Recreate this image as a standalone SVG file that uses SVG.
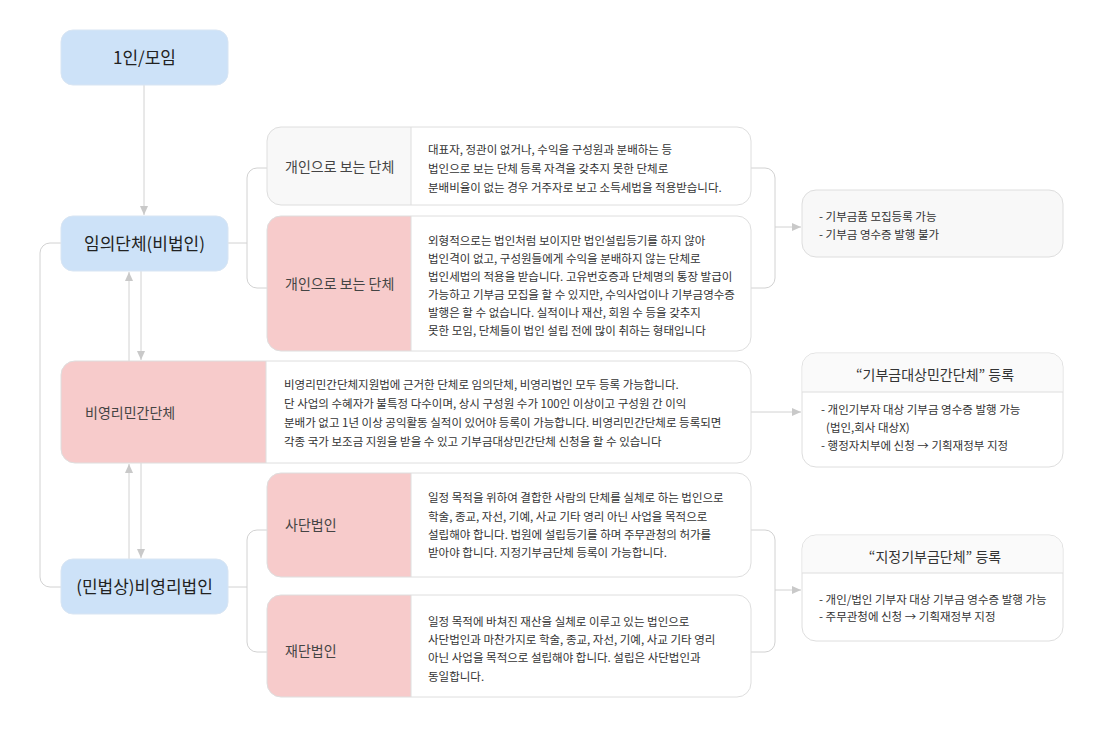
<svg xmlns="http://www.w3.org/2000/svg" width="1100" height="744" viewBox="0 0 1100 744">
<style>
text { font-family: "Noto Sans CJK KR", "Noto Sans", sans-serif; }
.bg { fill: #ffffff; }
.blue { fill: #cde2f8; stroke: #d8e5f3; stroke-width: 1; }
.lbl { font-size: 17px; fill: #222; text-anchor: middle; }
.outer { fill: none; stroke: #dedede; stroke-width: 1; }
.white { fill: #ffffff; }
.grey { fill: #f8f8f8; }
.pink { fill: #f7cbcb; }
.sep { stroke: #dedede; stroke-width: 1; }
.sub { font-size: 14px; fill: #444; }
.body { font-size: 11.5px; fill: #333; }
.rbox { fill: #ffffff; stroke: #dedede; stroke-width: 1; }
.rhead { fill: #fafafa; }
.htxt { font-size: 14px; fill: #333; text-anchor: middle; }
.conn { fill: none; stroke: #d2d2d2; stroke-width: 1; }
</style>
<defs>
<marker id="arr" markerUnits="userSpaceOnUse" markerWidth="10" markerHeight="8" refX="9" refY="4" orient="auto">
<path d="M0,0 L9,4 L0,8 Z" fill="#c9c9c9"/>
</marker>
</defs>
<rect class="bg" x="0" y="0" width="1100" height="744"/>

<g id="connectors">
<path class="conn" d="M144,85 V215" marker-end="url(#arr)"/>
<path class="conn" d="M228,243 H247"/>
<path class="conn" d="M267,168 H257 A10,10 0 0 0 247,178 V278 A10,10 0 0 0 257,288 H267"/>
<path class="conn" d="M751,168 H765 A10,10 0 0 1 775,178 V278 A10,10 0 0 1 765,288 H751"/>
<path class="conn" d="M775,227 H801" marker-end="url(#arr)"/>
<path class="conn" d="M751,412 H801" marker-end="url(#arr)"/>
<path class="conn" d="M751,530 H765 A10,10 0 0 1 775,540 V642 A10,10 0 0 1 765,652 H751"/>
<path class="conn" d="M775,590 H801" marker-end="url(#arr)"/>
<path class="conn" d="M228,587 H247"/>
<path class="conn" d="M267,530 H257 A10,10 0 0 0 247,540 V642 A10,10 0 0 0 257,652 H267"/>
<path class="conn" d="M61,243 H50 A10,10 0 0 0 40,253 V577 A10,10 0 0 0 50,587 H61"/>
<path class="conn" d="M129,361 V272" marker-end="url(#arr)"/>
<path class="conn" d="M141,271 V360" marker-end="url(#arr)"/>
<path class="conn" d="M129,559 V464" marker-end="url(#arr)"/>
<path class="conn" d="M141,463 V558" marker-end="url(#arr)"/>
</g>

<g id="node-1in">
<rect class="blue" x="61" y="30" width="167" height="55" rx="12"/>
<text class="lbl" x="144.5" y="64">1인/모임</text>
</g>

<g id="node-imui">
<rect class="blue" x="61" y="216" width="167" height="55" rx="12"/>
<text class="lbl" x="144.5" y="250">임의단체(비법인)</text>
</g>

<g id="node-minbeop">
<rect class="blue" x="61" y="559" width="167" height="55" rx="12"/>
<text class="lbl" x="144.5" y="593">(민법상)비영리법인</text>
</g>

<g id="node-gaein1">
<rect class="white" x="267" y="127" width="484" height="78" rx="14"/>
<path class="grey" d="M411,127 H281 A14,14 0 0 0 267,141 V191 A14,14 0 0 0 281,205 H411 Z"/>
<line class="sep" x1="411" y1="127" x2="411" y2="205"/>
<rect class="outer" x="267" y="127" width="484" height="78" rx="14"/>
<text class="sub" x="285" y="172">개인으로 보는 단체</text>
<text class="body" x="428" y="154">대표자, 정관이 없거나, 수익을 구성원과 분배하는 등</text>
<text class="body" x="428" y="173">법인으로 보는 단체 등록 자격을 갖추지 못한 단체로</text>
<text class="body" x="428" y="192">분배비율이 없는 경우 거주자로 보고 소득세법을 적용받습니다.</text>
</g>

<g id="node-gaein2">
<rect class="white" x="267" y="216" width="484" height="135" rx="14"/>
<path class="pink" d="M411,216 H281 A14,14 0 0 0 267,230 V337 A14,14 0 0 0 281,351 H411 Z"/>
<line class="sep" x1="411" y1="216" x2="411" y2="351"/>
<rect class="outer" x="267" y="216" width="484" height="135" rx="14"/>
<text class="sub" x="285" y="289">개인으로 보는 단체</text>
<text class="body" x="428" y="245">외형적으로는 법인처럼 보이지만 법인설립등기를 하지 않아</text>
<text class="body" x="428" y="263">법인격이 없고, 구성원들에게 수익을 분배하지 않는 단체로</text>
<text class="body" x="428" y="281">법인세법의 적용을 받습니다. 고유번호증과 단체명의 통장 발급이</text>
<text class="body" x="428" y="299">가능하고 기부금 모집을 할 수 있지만, 수익사업이나 기부금영수증</text>
<text class="body" x="428" y="317">발행은 할 수 없습니다. 실적이나 재산, 회원 수 등을 갖추지</text>
<text class="body" x="428" y="335">못한 모임, 단체들이 법인 설립 전에 많이 취하는 형태입니다</text>
</g>

<g id="node-biyoung">
<rect class="white" x="61" y="361" width="690" height="102" rx="14"/>
<path class="pink" d="M266,361 H75 A14,14 0 0 0 61,375 V449 A14,14 0 0 0 75,463 H266 Z"/>
<line class="sep" x1="266" y1="361" x2="266" y2="463"/>
<rect class="outer" x="61" y="361" width="690" height="102" rx="14"/>
<text class="sub" x="85" y="418">비영리민간단체</text>
<text class="body" x="284" y="389">비영리민간단체지원법에 근거한 단체로 임의단체, 비영리법인 모두 등록 가능합니다.</text>
<text class="body" x="284" y="408">단 사업의 수혜자가 불특정 다수이며, 상시 구성원 수가 100인 이상이고 구성원 간 이익</text>
<text class="body" x="284" y="427">분배가 없고 1년 이상 공익활동 실적이 있어야 등록이 가능합니다. 비영리민간단체로 등록되면</text>
<text class="body" x="284" y="446">각종 국가 보조금 지원을 받을 수 있고 기부금대상민간단체 신청을 할 수 있습니다</text>
</g>

<g id="node-sadan">
<rect class="white" x="267" y="473" width="484" height="104" rx="14"/>
<path class="pink" d="M411,473 H281 A14,14 0 0 0 267,487 V563 A14,14 0 0 0 281,577 H411 Z"/>
<line class="sep" x1="411" y1="473" x2="411" y2="577"/>
<rect class="outer" x="267" y="473" width="484" height="104" rx="14"/>
<text class="sub" x="285" y="530">사단법인</text>
<text class="body" x="428" y="502">일정 목적을 위하여 결합한 사람의 단체를 실체로 하는 법인으로</text>
<text class="body" x="428" y="521">학술, 종교, 자선, 기예, 사교 기타 영리 아닌 사업을 목적으로</text>
<text class="body" x="428" y="539">설립해야 합니다.  법원에 설립등기를 하며 주무관청의 허가를</text>
<text class="body" x="428" y="557">받아야 합니다. 지정기부금단체 등록이 가능합니다.</text>
</g>

<g id="node-jaedan">
<rect class="white" x="267" y="595" width="484" height="102" rx="14"/>
<path class="pink" d="M411,595 H281 A14,14 0 0 0 267,609 V683 A14,14 0 0 0 281,697 H411 Z"/>
<line class="sep" x1="411" y1="595" x2="411" y2="697"/>
<rect class="outer" x="267" y="595" width="484" height="102" rx="14"/>
<text class="sub" x="285" y="656">재단법인</text>
<text class="body" x="428" y="626">일정 목적에 바쳐진 재산을 실체로 이루고 있는 법인으로</text>
<text class="body" x="428" y="644">사단법인과 마찬가지로 학술, 종교, 자선, 기예, 사교 기타 영리</text>
<text class="body" x="428" y="662">아닌 사업을 목적으로 설립해야 합니다. 설립은 사단법인과</text>
<text class="body" x="428" y="681">동일합니다.</text>
</g>

<g id="node-r1">
<rect class="rbox" x="802" y="190" width="261" height="67" rx="14" style="fill:#f8f8f8"/>
<text class="body" x="819" y="221">- 기부금품 모집등록 가능</text>
<text class="body" x="819" y="239">- 기부금 영수증 발행 불가</text>
</g>

<g id="node-r2">
<rect class="rbox" x="802" y="353" width="261" height="114" rx="14"/>
<path class="rhead" d="M802.5,392 V367 A13.5,13.5 0 0 1 816,353.5 H1049 A13.5,13.5 0 0 1 1062.5,367 V392 Z"/>
<line class="sep" x1="802" y1="392" x2="1063" y2="392"/>
<text class="htxt" x="935" y="380">“기부금대상민간단체” 등록</text>
<text class="body" x="821" y="414">- 개인기부자 대상 기부금 영수증 발행 가능</text>
<text class="body" x="826" y="432">(법인,회사 대상X)</text>
<text class="body" x="821" y="450">- 행정자치부에 신청 → 기획재정부 지정</text>
</g>

<g id="node-r3">
<rect class="rbox" x="802" y="535" width="261" height="106" rx="14"/>
<path class="rhead" d="M802.5,573 V549 A13.5,13.5 0 0 1 816,535.5 H1049 A13.5,13.5 0 0 1 1062.5,549 V573 Z"/>
<line class="sep" x1="802" y1="573" x2="1063" y2="573"/>
<text class="htxt" x="935" y="562">“지정기부금단체” 등록</text>
<text class="body" x="819" y="604">- 개인/법인 기부자 대상 기부금 영수증 발행 가능</text>
<text class="body" x="819" y="621">- 주무관청에 신청 → 기획재정부 지정</text>
</g>
</svg>
